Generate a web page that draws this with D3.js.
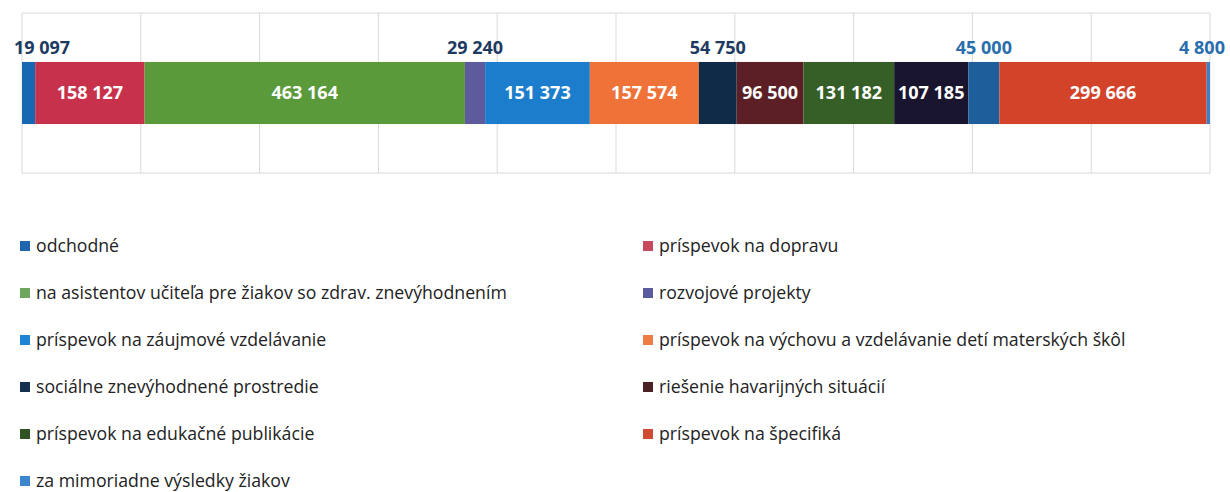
<!DOCTYPE html>
<meta charset="utf-8">
<script src="https://d3js.org/d3.v7.min.js"></script>
<style>
  body { margin: 0; background: #fff; }
  text { font-family: "Open Sans", "Noto Sans", sans-serif; }
</style>
<body>
<div id="canvas"></div>
<script>
// hodnoty segmentov v poradi, ako idu v pruhu zlava doprava
var segmentValues = [19097, 158127, 463164, 29240, 151373, 157574, 54750, 96500, 131182, 107185, 45000, 299666, 4800];
var segmentColors = ["#1767b3", "#c8314b", "#5b9a3b", "#5d5a9e", "#1b7dcc", "#ef7238", "#0f2b48", "#5b1f25", "#355f27", "#19152e", "#1e5f9b", "#d3432a", "#3d80c4"];
// farba popisu nad pruhom (pre male segmenty)
var outsideLabelColors = ["#1d3a62", null, null, "#1d3a62", null, null, "#1d3a62", null, null, null, "#2a6ead", null, "#2a6ead"];

// legenda (poradie ako v obrazku, po riadkoch)
var legendNames = [
    "odchodné",
    "príspevok na dopravu",
    "na asistentov učiteľa pre žiakov so zdrav. znevýhodnením",
    "rozvojové projekty",
    "príspevok na záujmové vzdelávanie",
    "príspevok na výchovu a vzdelávanie detí materských škôl",
    "sociálne znevýhodnené prostredie",
    "riešenie havarijných situácií",
    "príspevok na edukačné publikácie",
    "príspevok na špecifiká",
    "za mimoriadne výsledky žiakov"
];
var legendColors = ["#1e66ad", "#c8485e", "#6fa65d", "#5a5c9e", "#1e84d3", "#ef7c45", "#13304f", "#4e2127", "#2f5323", "#cf4a30", "#3b86cf"];

var width = 1230;
var height = 492;

var svg = d3.select('#canvas')
    .append("svg")
    .attr("width", width)
    .attr("height", height)
    .style("background", "#fff");

var plot = {left: 22, right: 1210, top: 13, bottom: 173};

// 100% skladany pruh
var row = {};
segmentValues.forEach(function(v, i) { row[i] = v; });
var keys = d3.range(segmentValues.length);
var series = d3.stack().keys(keys).offset(d3.stackOffsetExpand)([row]);

var x = d3.scaleLinear()
    .domain([0, 1])
    .range([plot.left, plot.right]);

var y = d3.scaleBand()
    .domain(["spolu"])
    .range([plot.top, plot.bottom])
    .padding(0.441);

var fmt = d3.formatLocale({decimal: ",", thousands: "\u00a0", grouping: [3], currency: ["", " €"]}).format(",d");

// mriezka
svg.append("g")
    .selectAll("line")
    .data(x.ticks(10))
    .enter()
    .append("line")
    .attr("x1", function(d) { return x(d); })
    .attr("x2", function(d) { return x(d); })
    .attr("y1", plot.top)
    .attr("y2", plot.bottom)
    .attr("stroke", "#d9d9d9")
    .attr("stroke-width", 1);

svg.append("g")
    .selectAll("line")
    .data([plot.top, plot.bottom])
    .enter()
    .append("line")
    .attr("x1", plot.left)
    .attr("x2", plot.right)
    .attr("y1", function(d) { return d; })
    .attr("y2", function(d) { return d; })
    .attr("stroke", "#d9d9d9")
    .attr("stroke-width", 1);

// segmenty
var seg = svg.append("g")
    .selectAll("rect")
    .data(series)
    .enter()
    .append("rect")
    .attr("x", function(s) { return x(s[0][0]); })
    .attr("y", y("spolu"))
    .attr("width", function(s) { return x(s[0][1]) - x(s[0][0]); })
    .attr("height", y.bandwidth())
    .attr("fill", function(s) { return segmentColors[s.key]; });

// popisy hodnot
svg.append("g")
    .selectAll("text")
    .data(series)
    .enter()
    .append("text")
    .attr("x", function(s) {
        var cx = (x(s[0][0]) + x(s[0][1])) / 2;
        return Math.min(Math.max(cx, 42), 1202);
    })
    .attr("y", function(s) {
        if (outsideLabelColors[s.key]) return y("spolu") - 8;
        return y("spolu") + y.bandwidth() / 2;
    })
    .attr("dy", function(s) { return outsideLabelColors[s.key] ? "0" : "0.36em"; })
    .attr("text-anchor", "middle")
    .style("font-size", "18px")
    .style("font-weight", "bold")
    .attr("fill", function(s) { return outsideLabelColors[s.key] || "#fff"; })
    .text(function(s) { return fmt(segmentValues[s.key]); });

// legenda
var legend = svg.append("g")
    .selectAll("g")
    .data(legendNames)
    .enter()
    .append("g")
    .attr("transform", function(d, i) {
        var col = i % 2, r = Math.floor(i / 2);
        return "translate(" + (col === 0 ? 20 : 643) + "," + (246 + r * 47) + ")";
    });

legend.append("rect")
    .attr("x", 0)
    .attr("y", -5)
    .attr("width", 10)
    .attr("height", 10)
    .attr("fill", function(d, i) { return legendColors[i]; });

legend.append("text")
    .attr("x", 16)
    .attr("y", 0)
    .attr("dy", "0.36em")
    .style("font-size", "17.7px")
    .attr("fill", "#222")
    .text(function(d) { return d; });
</script>
</body>
